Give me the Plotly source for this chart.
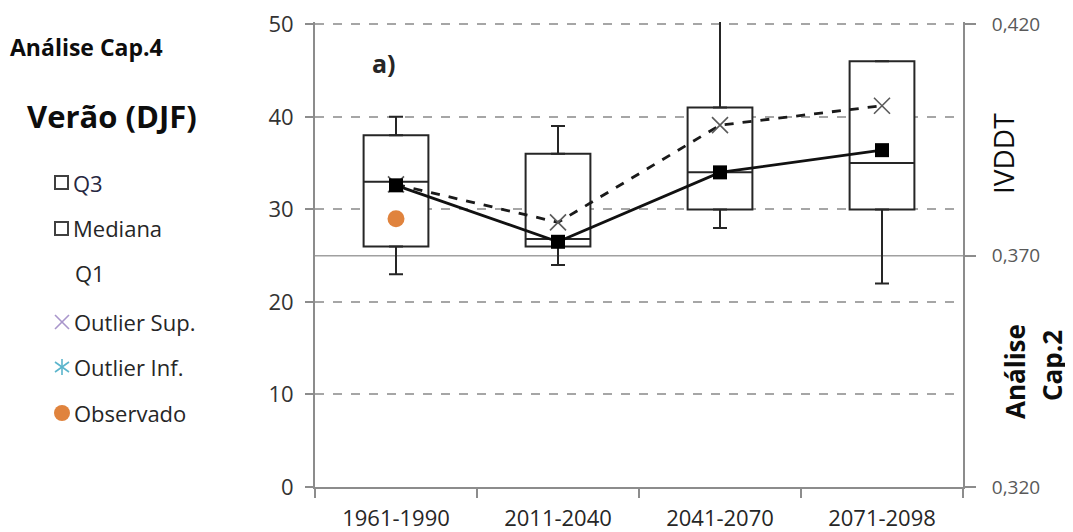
import plotly.graph_objects as go

# ---------------- data ----------------
periods = ["1961-1990", "2011-2040", "2041-2070", "2071-2098"]
q1_vals = [26, 26, 30, 30]
median_vals = [33, 26.8, 34, 35]
q3_vals = [38, 36, 41, 46]
whisker_low = [23, 24, 28, 22]
whisker_high = [40, 39, 51, 46]
mean_vals = [32.6, 26.5, 34.0, 36.4]
ensemble_vals = [32.7, 28.6, 39.1, 41.2]
observed_period = ["1961-1990"]
observed_vals = [29]
left_ticks = [0, 10, 20, 30, 40, 50]
right_ticks = [0.320, 0.370, 0.420]

FONT = "Open Sans"
OFF = 8  # browser body margin
W, H = 1073 - OFF, 532 - OFF
L, T = 315 - OFF, 22 - OFF
PW, PH = 648, 465
R = W - L - PW
B = H - T - PH

# small headroom so the top gridline (50) is drawn
Y_TOP = 50.25
Y2_TOP = right_ticks[0] + (right_ticks[-1] - right_ticks[0]) * Y_TOP / left_ticks[-1]


def px(x):
    return (x - OFF - L) / PW


def py(y):
    return (H + OFF - B - y) / PH


fig = go.Figure()

# boxes
fig.add_trace(go.Box(
    x=periods, q1=q1_vals, median=median_vals, q3=q3_vals,
    lowerfence=q1_vals, upperfence=q3_vals,
    width=0.4, fillcolor="white",
    line=dict(color="#262626", width=2),
    showlegend=False, hoverinfo="skip", boxpoints=False,
))

# whiskers with caps (upper)
fig.add_trace(go.Scatter(
    x=periods, y=q3_vals, mode="markers", marker=dict(size=1, opacity=0),
    error_y=dict(type="data", symmetric=False,
                 array=[h - q for h, q in zip(whisker_high, q3_vals)],
                 arrayminus=[0] * 4, color="#262626", thickness=2, width=7),
    showlegend=False, hoverinfo="skip",
))
# whiskers with caps (lower)
fig.add_trace(go.Scatter(
    x=periods, y=q1_vals, mode="markers", marker=dict(size=1, opacity=0),
    error_y=dict(type="data", symmetric=False,
                 array=[0] * 4,
                 arrayminus=[q - l for q, l in zip(q1_vals, whisker_low)],
                 color="#262626", thickness=2, width=7),
    showlegend=False, hoverinfo="skip",
))

# observed
fig.add_trace(go.Scatter(
    x=observed_period, y=observed_vals, mode="markers",
    marker=dict(symbol="circle", size=17, color="#E0833D"),
    showlegend=False, hoverinfo="skip",
))

# dashed line with X markers
fig.add_trace(go.Scatter(
    x=periods, y=ensemble_vals, mode="lines+markers",
    line=dict(color="#1a1a1a", width=2.8, dash="dash"),
    marker=dict(symbol="x-thin", size=16, line=dict(color="#5a5a5a", width=1.6)),
    showlegend=False, hoverinfo="skip",
))

# solid line with squares
fig.add_trace(go.Scatter(
    x=periods, y=mean_vals, mode="lines+markers",
    line=dict(color="#111111", width=2.8),
    marker=dict(symbol="square", size=14, color="#000000"),
    showlegend=False, hoverinfo="skip",
))

# secondary axis anchor trace (empty)
fig.add_trace(go.Scatter(x=[], y=[], yaxis="y2", showlegend=False, hoverinfo="skip"))

grey = "#8c8c8c"

fig.update_layout(
    width=W, height=H,
    margin=dict(l=L, r=R, t=T, b=B, pad=0, autoexpand=False),
    paper_bgcolor="white", plot_bgcolor="white",
    separators=",.",
    font=dict(family=FONT, color="#262626"),
    xaxis=dict(
        type="category", categoryorder="array", categoryarray=periods,
        range=[-0.5, 3.5], showline=True, linecolor=grey, linewidth=2,
        ticks="outside", tickson="boundaries", ticklen=9, tickcolor=grey, tickwidth=1.5,
        showgrid=False, tickfont=dict(family=FONT, size=22, color="#262626"),
        ticklabelstandoff=11, fixedrange=True,
    ),
    yaxis=dict(
        range=[0, Y_TOP], tickvals=left_ticks, showline=True, linecolor=grey, linewidth=2,
        ticks="outside", ticklen=8, tickcolor=grey, tickwidth=1.5,
        showgrid=True, gridcolor="#a6a6a6", gridwidth=1.5, griddash="dash",
        zeroline=False, tickfont=dict(family=FONT, size=22, color="#333333"),
        ticklabelstandoff=7, ticklabeloverflow="allow",
    ),
    yaxis2=dict(
        overlaying="y", side="right", range=[right_ticks[0], Y2_TOP], tickvals=right_ticks,
        tickformat=".3f", showline=True, linecolor=grey, linewidth=2,
        ticks="outside", ticklen=11, tickcolor=grey, tickwidth=1.5,
        showgrid=False, zeroline=False,
        tickfont=dict(family=FONT, size=19, color="#595959"),
        ticklabelstandoff=12, ticklabeloverflow="allow",
    ),
)

shapes = [dict(type="line", xref="paper", yref="y2", x0=0, x1=1,
               y0=right_ticks[1], y1=right_ticks[1],
               line=dict(color="#a0a0a0", width=1.5), layer="below")]


# legend symbols (paper coordinates converted from pixels)
def rect(x0, y0, x1, y1, color):
    shapes.append(dict(type="rect", xref="paper", yref="paper",
                       x0=px(x0), x1=px(x1), y0=py(y1), y1=py(y0),
                       line=dict(color=color, width=2), fillcolor="white"))


def seg(x0, y0, x1, y1, color, w=1.6):
    shapes.append(dict(type="line", xref="paper", yref="paper",
                       x0=px(x0), x1=px(x1), y0=py(y0), y1=py(y1),
                       line=dict(color=color, width=w)))


rect(55, 176, 68, 189, "#404040")
rect(55, 222, 68, 235, "#404040")
seg(55, 315, 69, 329, "#A996CB")
seg(55, 329, 69, 315, "#A996CB")
seg(62, 359, 62, 375, "#5BB5CC")
seg(55, 362, 69, 372, "#5BB5CC")
seg(55, 372, 69, 362, "#5BB5CC")
shapes.append(dict(type="circle", xref="paper", yref="paper",
                   x0=px(54), x1=px(70), y0=py(421), y1=py(405),
                   line=dict(color="#E0833D", width=0), fillcolor="#E0833D"))

fig.update_layout(shapes=shapes)

ann = []


def text(x, y, s, size, bold=False, color="#1a1a1a", xanchor="left", angle=0, yanchor="middle"):
    ann.append(dict(
        xref="paper", yref="paper", x=px(x), y=py(y), text=("<b>%s</b>" % s) if bold else s,
        showarrow=False, xanchor=xanchor, yanchor=yanchor, textangle=angle,
        font=dict(family=FONT, size=size, color=color),
    ))


text(8, 47, "Análise Cap.4", 23, bold=True, color="#0d0d0d")
text(25, 116, "Verão (DJF)", 31, bold=True, color="#0d0d0d")
text(370, 63, "a)", 25, bold=True, color="#262626")

text(71, 183, "Q3", 22, color="#262640")
text(71, 228, "Mediana", 22, color="#262626")
text(73, 273, "Q1", 22, color="#262626")
text(72, 322, "Outlier Sup.", 22, color="#262626")
text(72, 367, "Outlier Inf.", 22, color="#262626")
text(72, 413, "Observado", 22, color="#262626")

text(1003, 154, "IVDDT", 28, angle=-90, xanchor="center", color="#0d0d0d")
text(1015, 372, "Análise", 26, bold=True, angle=-90, xanchor="center", color="#0d0d0d")
text(1052, 366, "Cap.2", 26, bold=True, angle=-90, xanchor="center", color="#0d0d0d")

fig.update_layout(annotations=ann)

fig.write_html("out.html")
